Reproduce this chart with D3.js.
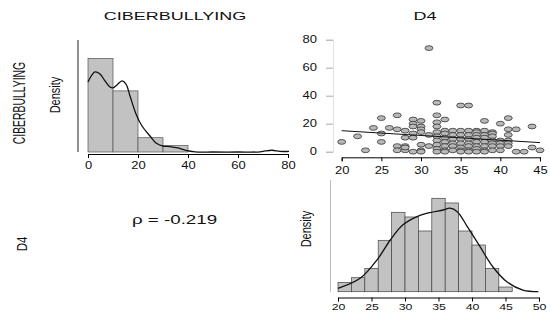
<!DOCTYPE html>
<html>
<head>
<meta charset="utf-8">
<script src="https://cdn.jsdelivr.net/npm/d3@7"></script>
<style>
  body { margin: 0; background: #fff; }
  text { font-family: "Liberation Sans", Arial, sans-serif; fill: #111; }
</style>
</head>
<body>
<script>
// histogram CIBERBULLYING (linksboven)
var ciberBins = [0, 10, 20, 30, 40];
var ciberCounts = [72, 47, 11, 5];
var ciberTicks = [0, 20, 40, 60, 80];
var ciberDensX = [0, 1.6, 2.8, 4.8, 6.8, 8.8, 10, 11.6, 13.6, 15.2, 16.8, 19.2, 21.6, 24.8, 27.2, 30, 32.8, 36, 39.2, 42.8, 50, 60, 68.8, 70.8, 73.6, 76.8, 80.4];
var ciberDensY = [0.0399, 0.0439, 0.0456, 0.0444, 0.0405, 0.037, 0.0365, 0.0382, 0.0405, 0.0387, 0.0319, 0.0217, 0.0148, 0.0091, 0.0051, 0.0034, 0.0031, 0.0023, 0.0009, 0.0001, 0, 0, 0.0001, 0.0006, 0.001, 0.0004, 0.0003];

// histogram D4 (rechtsonder)
var d4Bins = [20, 22, 24, 26, 28, 30, 32, 34, 36, 38, 40, 42, 44, 46];
var d4Counts = [2, 3, 5, 11, 17, 16, 13, 20, 19, 13, 10, 5, 1];
var d4Ticks = [20, 25, 30, 35, 40, 45, 50];
var d4DensX = [20, 23.3, 26, 27.8, 29.7, 31.8, 33.7, 35.7, 36.7, 37.8, 39.3, 41.2, 43.1, 45.2, 47.6, 49.9];
var d4DensY = [0.0027, 0.0106, 0.0265, 0.041, 0.053, 0.0595, 0.0627, 0.0648, 0.0662, 0.0635, 0.0516, 0.0357, 0.0198, 0.0079, 0.0013, 0.0001];

// spreidingsdiagram (rechtsboven): x = D4, y = CIBERBULLYING
var scatD4 = [20, 22, 23, 24, 25, 25, 25, 26, 27, 27, 27, 27, 28, 28, 28, 28, 28,
  29, 29, 29, 29, 29, 29, 30, 30, 30, 30, 30, 30, 30, 31, 31, 31,
  32, 32, 32, 32, 32, 32, 32, 32, 32, 32, 33, 33, 33, 33, 33, 33, 33, 33,
  34, 34, 34, 34, 34, 34,
  35, 35, 35, 35, 35, 35, 35, 35, 36, 36, 36, 36, 36, 36, 36, 36,
  37, 37, 37, 37, 37, 37, 37, 37,
  38, 38, 38, 38, 38, 38, 38, 38, 39, 39, 39, 39, 39, 39, 39,
  40, 40, 40, 40, 40, 41, 41, 41, 41, 41, 41, 42, 42, 43, 44, 44, 45];
var scatCiber = [7, 11, 1, 17, 24, 13, 7, 17, 26, 16, 4, 1, 15, 10, 4, 1, 3,
  23, 20, 18, 13, 10, 0, 22, 18, 16, 14, 5, 1, 0, 74, 12, 4,
  35, 26, 21, 18, 14, 11, 8, 5, 2, 0, 23, 15, 13, 10, 7, 4, 1, 0,
  15, 12, 9, 6, 4, 1,
  33, 15, 12, 9, 6, 3, 1, 0, 33, 15, 12, 9, 6, 4, 1, 0,
  15, 14, 12, 10, 7, 4, 2, 0,
  22, 15, 12, 10, 7, 4, 1, 0, 14, 13, 11, 8, 6, 4, 1,
  20, 8, 6, 4, 1, 24, 16, 12, 8, 6, 4, 16, 0, 0, 18, 3, 1];
var scatXTicks = [20, 25, 30, 35, 40, 45];
var scatYTicks = [0, 20, 40, 60, 80];
var fitX = [20, 45];
var fitY = [15, 6.5];

var rhoTekst = "\u03c1 = -0.219";

var breedte = 550, hoogte = 312;
var svg = d3.select("body").append("svg")
    .attr("width", breedte)
    .attr("height", hoogte);

// tekst die horizontaal uitgerekt is (zoals in het origineel)
function tekst(x, y, s, size, sx, anchor) {
  return svg.append("text")
      .attr("transform", "translate(" + x + "," + y + ") scale(" + sx + ",1)")
      .attr("font-size", size)
      .attr("text-anchor", anchor || "middle")
      .text(s);
}

function tekstVerticaal(x, y, s, size, sx) {
  return svg.append("text")
      .attr("transform", "translate(" + x + "," + y + ") scale(" + sx + ",1) rotate(-90)")
      .attr("font-size", size)
      .attr("text-anchor", "middle")
      .text(s);
}

function asOpmaak(g) {
  g.selectAll("text").attr("font-size", 10)
      .attr("font-family", "Liberation Sans, Arial, sans-serif")
      .attr("fill", "#111");
}

// titels en labels
tekst(175, 20, "CIBERBULLYING", 10, 1.8);
tekst(425, 20, "D4", 10, 1.8);
tekstVerticaal(25, 103, "CIBERBULLYING", 10.4, 1.5);
tekstVerticaal(26.5, 244, "D4", 11.5, 1.3);
tekstVerticaal(60, 95, "Density", 11, 1.3);
tekstVerticaal(310.5, 229, "Density", 11, 1.3);
tekst(132, 224, rhoTekst, 12.5, 1.5, "start");

var lijn = function(xs, ys) {
  return d3.line().curve(d3.curveCatmullRom)
      .x(function(d) { return xs(d[0]); })
      .y(function(d) { return ys(d[1]); });
};

// ---------- histogram CIBERBULLYING ----------
var nCiber = d3.sum(ciberCounts);
var x1 = d3.scaleLinear().domain([0, 80]).range([88, 288]);
var y1 = d3.scaleLinear().domain([0, 0.0638]).range([152, 40]);

svg.append("g").selectAll("rect")
    .data(ciberCounts)
    .enter().append("rect")
    .attr("x", function(d, i) { return x1(ciberBins[i]); })
    .attr("width", function(d, i) { return x1(ciberBins[i + 1]) - x1(ciberBins[i]); })
    .attr("y", function(d) { return y1(d / (nCiber * 10)); })
    .attr("height", function(d) { return y1(0) - y1(d / (nCiber * 10)); })
    .attr("fill", "#c2c2c2")
    .attr("stroke", "#555")
    .attr("stroke-width", 0.7);

svg.append("path")
    .datum(d3.zip(ciberDensX, ciberDensY))
    .attr("d", lijn(x1, y1))
    .attr("fill", "none")
    .attr("stroke", "#111")
    .attr("stroke-width", 1.3);

svg.append("line")
    .attr("x1", 78).attr("x2", 78)
    .attr("y1", y1(0.0638)).attr("y2", y1(0))
    .attr("stroke", "#222").attr("stroke-width", 1);

var as1 = svg.append("g")
    .attr("transform", "translate(0,154)")
    .call(d3.axisBottom(x1).tickValues(ciberTicks).tickSizeOuter(0).tickSize(4).tickPadding(2));
asOpmaak(as1);
as1.selectAll("text").attr("transform", "scale(1.3,1)").attr("dy", "0.95em");

// ---------- spreidingsdiagram ----------
var x2 = d3.scaleLinear().domain([20, 45]).range([341.7, 540]);
var y2 = d3.scaleLinear().domain([0, 80]).range([151.7, 39.7]);

svg.append("g").selectAll("ellipse")
    .data(d3.zip(scatD4, scatCiber))
    .enter().append("ellipse")
    .attr("cx", function(d) { return x2(d[0]); })
    .attr("cy", function(d) { return y2(d[1]); })
    .attr("rx", 4)
    .attr("ry", 2.4)
    .attr("fill", "#b8b8b8")
    .attr("stroke", "#333")
    .attr("stroke-width", 0.8);

svg.append("line")
    .attr("x1", x2(fitX[0])).attr("y1", y2(fitY[0]))
    .attr("x2", x2(fitX[1])).attr("y2", y2(fitY[1]))
    .attr("stroke", "#111")
    .attr("stroke-width", 1);

var as2x = svg.append("g")
    .attr("transform", "translate(0,157.3)")
    .call(d3.axisBottom(x2).tickValues(scatXTicks).tickSizeOuter(0).tickSize(4).tickPadding(3));
asOpmaak(as2x);
as2x.selectAll("text").attr("transform", "scale(1.3,1)").attr("dy", "0.95em");

var as2y = svg.append("g")
    .attr("transform", "translate(333,0)")
    .call(d3.axisLeft(y2).tickValues(scatYTicks).tickSizeOuter(0).tickSize(7).tickPadding(0));
as2y.select(".domain").attr("stroke", "#e2e2e2");
as2y.selectAll(".tick line").attr("stroke", "#aaa");
asOpmaak(as2y);
as2y.selectAll("text").attr("x", -16 / 1.3).attr("transform", "scale(1.3,1)");

// ---------- histogram D4 ----------
var nD4 = d3.sum(d4Counts);
var x3 = d3.scaleLinear().domain([20, 50]).range([338, 539]);
var y3 = d3.scaleLinear().domain([0, 0.087]).range([291.7, 182]);

svg.append("g").selectAll("rect")
    .data(d4Counts)
    .enter().append("rect")
    .attr("x", function(d, i) { return x3(d4Bins[i]); })
    .attr("width", function(d, i) { return x3(d4Bins[i + 1]) - x3(d4Bins[i]); })
    .attr("y", function(d) { return y3(d / (nD4 * 2)); })
    .attr("height", function(d) { return y3(0) - y3(d / (nD4 * 2)); })
    .attr("fill", "#c2c2c2")
    .attr("stroke", "#444")
    .attr("stroke-width", 0.7);

svg.append("path")
    .datum(d3.zip(d4DensX, d4DensY))
    .attr("d", lijn(x3, y3))
    .attr("fill", "none")
    .attr("stroke", "#111")
    .attr("stroke-width", 1.3);

svg.append("line")
    .attr("x1", 330.5).attr("x2", 330.5)
    .attr("y1", 180).attr("y2", y3(0))
    .attr("stroke", "#bbb").attr("stroke-width", 1);

var as3 = svg.append("g")
    .attr("transform", "translate(0,297.5)")
    .call(d3.axisBottom(x3).tickValues(d4Ticks).tickSizeOuter(0).tickSize(4).tickPadding(0));
asOpmaak(as3);
as3.selectAll("text").attr("transform", "scale(1.3,1)").attr("font-size", 9.5).attr("dy", "0.85em");
</script>
</body>
</html>
